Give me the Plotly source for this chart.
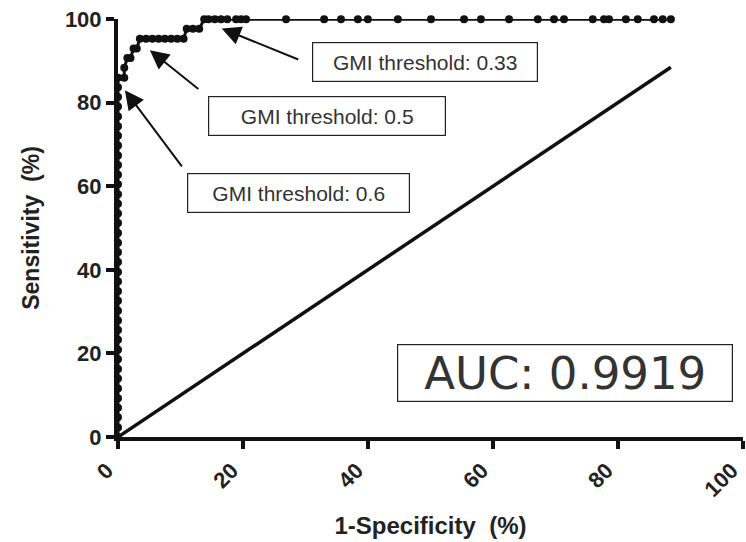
import plotly.graph_objects as go

# ROC curve points (1-Specificity %, Sensitivity %)
fpr = [0, 0, 0, 0, 0, 0, 0, 0, 0, 0, 0, 0, 0, 0, 0, 0, 0, 0, 0, 0,
       0, 0, 0, 0, 0, 0, 0, 0, 0, 0, 0, 0, 0, 0, 0, 0, 0, 0,
       1.0, 1.0, 1.5, 2.0, 2.5, 3.0, 3.5, 4.5, 5.5, 6.5, 7.5, 8.5, 9.5, 10.5,
       11.0, 12.0, 13.0, 13.8, 14.5, 15.5, 16.5, 17.5, 18.9, 19.7, 20.5,
       26.9, 33.0, 35.7, 38.4, 40.0, 44.8, 50.1, 55.4, 58.1, 62.6, 67.2,
       69.8, 71.4, 76.0, 77.8, 78.6, 81.3, 83.2, 85.8, 87.2, 88.5]
tpr = [0, 2.3, 4.7, 7.0, 9.3, 11.6, 14.0, 16.3, 18.6, 20.9, 23.3, 25.6,
       27.9, 30.2, 32.6, 34.9, 37.2, 39.5, 41.9, 44.2, 46.5, 48.8, 51.2,
       53.5, 55.8, 58.1, 60.5, 62.8, 65.1, 67.4, 69.8, 72.1, 74.4, 76.7,
       79.1, 81.4, 83.7, 86.0,
       86.0, 88.4, 90.7, 90.7, 93.0, 93.0, 95.3, 95.3, 95.3, 95.3, 95.3, 95.3, 95.3, 95.3,
       97.7, 97.7, 97.7, 100, 100, 100, 100, 100, 100, 100, 100,
       100, 100, 100, 100, 100, 100, 100, 100, 100, 100, 100,
       100, 100, 100, 100, 100, 100, 100, 100, 100, 100]

# reference (chance) line
ref_x = [0, 88.5]
ref_y = [0, 88.5]

x_ticks = [0, 20, 40, 60, 80, 100]
y_ticks = [0, 20, 40, 60, 80, 100]

# threshold annotations: label, arrow tip (x, y), arrow tail (x, y), box centre (x, y), box width
thr_labels = ["GMI threshold: 0.6", "GMI threshold: 0.5", "GMI threshold: 0.33"]
thr_tip = [(1.1, 83.0), (5.1, 92.6), (16.6, 97.8)]
thr_tail = [(10.4, 64.4), (13.1, 83.0), (29.1, 90.2)]
thr_box = [(28.9, 58.3), (33.4, 76.9), (49.1, 89.8)]
thr_w = [215, 230, 218]

auc_text = "AUC: 0.9919"
auc_pos = (71.6, 15.3)

FONT = "Liberation Sans, Arial, sans-serif"

fig = go.Figure()
fig.add_trace(go.Scatter(x=ref_x, y=ref_y, mode="lines",
                         line=dict(color="#111", width=3.5), cliponaxis=False,
                         hoverinfo="skip"))
fig.add_trace(go.Scatter(x=fpr, y=tpr, mode="lines+markers",
                         line=dict(color="#111", width=3),
                         marker=dict(color="#111", size=8),
                         cliponaxis=False))

for lab, tip, tail, box, w in zip(thr_labels, thr_tip, thr_tail, thr_box, thr_w):
    fig.add_annotation(x=tip[0], y=tip[1], ax=tail[0], ay=tail[1],
                       xref="x", yref="y", axref="x", ayref="y",
                       text="", showarrow=True, arrowhead=2, arrowsize=1.9,
                       arrowwidth=2, arrowcolor="#111")
    fig.add_annotation(x=box[0], y=box[1], xref="x", yref="y", text=lab,
                       showarrow=False, width=w, height=32, borderpad=3,
                       bordercolor="#222", borderwidth=1.2, bgcolor="white",
                       font=dict(family=FONT, size=21, color="#333"))

fig.add_annotation(x=auc_pos[0], y=auc_pos[1], xref="x", yref="y", text=auc_text,
                   showarrow=False, width=328, height=50, borderpad=3,
                   bordercolor="#222", borderwidth=1.2, bgcolor="white",
                   font=dict(family="DejaVu Sans, sans-serif", size=45, color="#333"))

axis_common = dict(showline=True, linewidth=4, linecolor="#111", ticks="outside",
                   ticklen=8, tickwidth=4, tickcolor="#111", showgrid=False,
                   zeroline=False, ticklabeloverflow="allow", automargin=False,
                   tickfont=dict(family=FONT, size=22, color="#222", weight="bold"))

fig.update_xaxes(range=[0, 100.05], tickvals=x_ticks, ticktext=[str(v) for v in x_ticks],
                 tickangle=-45, ticklabelshift=-11,
                 title=dict(text="1-Specificity  (%)", standoff=18,
                            font=dict(family=FONT, size=24, color="#222", weight="bold")),
                 **axis_common)
fig.update_yaxes(range=[0, 100.05], tickvals=y_ticks, ticktext=[str(v) for v in y_ticks],
                 title=dict(text="Sensitivity  (%)", standoff=20,
                            font=dict(family=FONT, size=23, color="#222", weight="bold")),
                 **axis_common)

fig.update_layout(width=746, height=542, showlegend=False,
                  plot_bgcolor="white", paper_bgcolor="white",
                  margin=dict(l=118, r=3, t=19, b=105))

fig.write_html("out.html")
